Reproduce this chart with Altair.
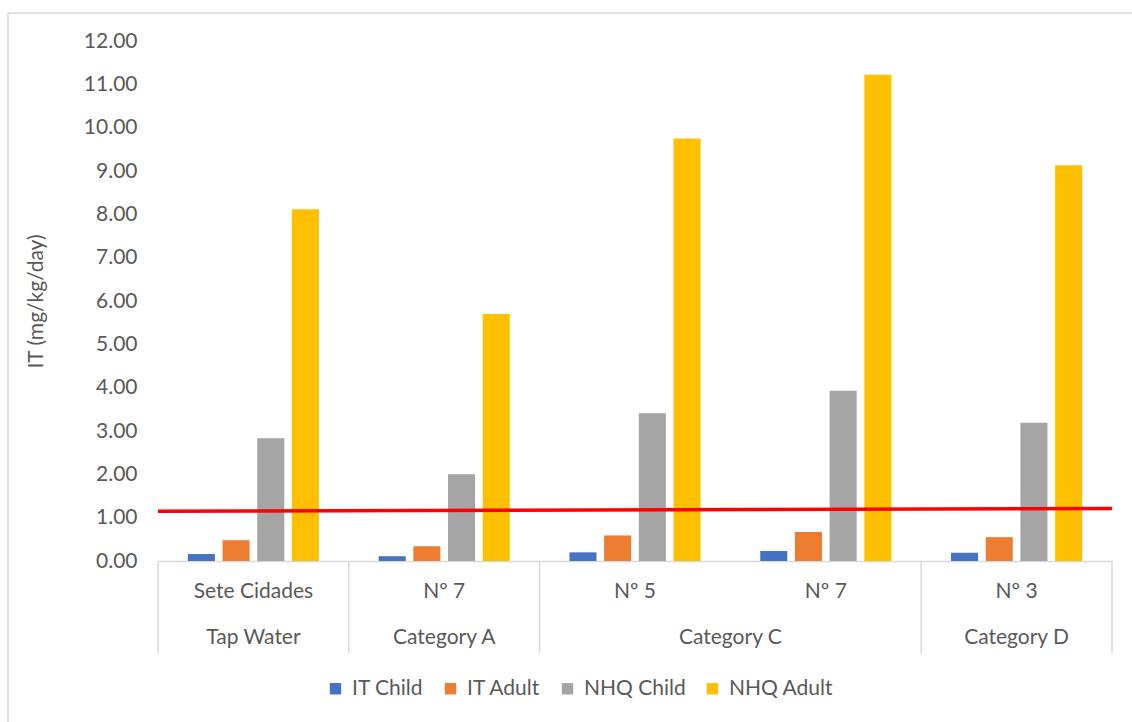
import altair as alt
import pandas as pd

keys = ["g1", "g2", "g3", "g4", "g5"]
sub_labels = ["Sete Cidades", "Nº 7", "Nº 5", "Nº 7", "Nº 3"]
series = ["IT Child", "IT Adult", "NHQ Child", "NHQ Adult"]
it_child = [0.16, 0.11, 0.20, 0.23, 0.19]
it_adult = [0.48, 0.34, 0.59, 0.67, 0.55]
nhq_child = [2.83, 2.00, 3.41, 3.93, 3.19]
nhq_adult = [8.12, 5.70, 9.75, 11.22, 9.13]
colors = ["#4472C4", "#ED7D31", "#A5A5A5", "#FFC000"]

cat_single_keys = ["g1", "g2", "g5"]
cat_single_labels = ["Tap Water", "Category A", "Category D"]
cat_span_key = ["g3"]
cat_span_label = ["Category C"]

ref_start = [1.15]
ref_end = [1.21]

W, H = 954, 520
FONT = "Lato"
FS = 21
TXT = "#595959"
GRID = "#D9D9D9"

rows = []
for i, k in enumerate(keys):
    for s, vals in zip(series, [it_child, it_adult, nhq_child, nhq_adult]):
        rows.append({"key": k, "series": s, "value": vals[i]})
df = pd.DataFrame(rows)

xscale = alt.Scale(domain=keys, paddingInner=0, paddingOuter=0)
x_axis = alt.Axis(labels=False, ticks=False, title=None, domainColor=GRID, domainWidth=1.5)

bars = alt.Chart(df).mark_bar().encode(
    x=alt.X("key:N", scale=xscale, axis=x_axis, sort=keys),
    xOffset=alt.XOffset("series:N", sort=series,
                        scale=alt.Scale(domain=series, paddingInner=0.22, paddingOuter=0.86)),
    y=alt.Y("value:Q", scale=alt.Scale(domain=[0, 12], nice=False),
            axis=alt.Axis(values=list(range(13)), format=".2f", title="IT (mg/kg/day)",
                          grid=False, ticks=False, domain=False, labelPadding=21,
                          labelFont=FONT, labelFontSize=FS, labelColor=TXT,
                          titleFont=FONT, titleFontSize=FS, titleColor=TXT,
                          titleFontWeight="normal", titlePadding=37)),
    color=alt.Color("series:N", sort=series,
                    scale=alt.Scale(domain=series, range=colors),
                    legend=alt.Legend(title=None, orient="none", direction="horizontal",
                                      legendX=167, legendY=637, symbolType="square",
                                      symbolSize=130, symbolStrokeWidth=0, labelFont=FONT,
                                      labelFontSize=FS, labelColor=TXT, labelOffset=6,
                                      columnPadding=16)),
)

sub_df = pd.DataFrame({"key": keys, "label": sub_labels})
sub_text = alt.Chart(sub_df).mark_text(font=FONT, fontSize=FS, color=TXT, baseline="middle").encode(
    x=alt.X("key:N", scale=xscale, sort=keys), y=alt.value(551), text="label:N")

cat_df = pd.DataFrame({"key": cat_single_keys, "label": cat_single_labels})
cat_text = alt.Chart(cat_df).mark_text(font=FONT, fontSize=FS, color=TXT, baseline="middle").encode(
    x=alt.X("key:N", scale=xscale, sort=keys), y=alt.value(597), text="label:N")

span_df = pd.DataFrame({"key": cat_span_key, "label": cat_span_label})
span_text = alt.Chart(span_df).mark_text(font=FONT, fontSize=FS, color=TXT, baseline="middle",
                                         dx=W / len(keys) / 2).encode(
    x=alt.X("key:N", scale=xscale, sort=keys), y=alt.value(597), text="label:N")

sep_left = pd.DataFrame({"key": ["g1", "g2", "g3", "g5"]})
sep1 = alt.Chart(sep_left).mark_rule(color=GRID, strokeWidth=1.5).encode(
    x=alt.X("key:N", scale=xscale, sort=keys, bandPosition=0),
    y=alt.value(H), y2=alt.value(612))
sep_right = pd.DataFrame({"key": ["g5"]})
sep2 = alt.Chart(sep_right).mark_rule(color=GRID, strokeWidth=1.5).encode(
    x=alt.X("key:N", scale=xscale, sort=keys, bandPosition=1),
    y=alt.value(H), y2=alt.value(612))

ref_df = pd.DataFrame({"start": ref_start, "end": ref_end})
ref = alt.Chart(ref_df).mark_rule(color="#FF0000", strokeWidth=3.5).encode(
    x=alt.value(0), x2=alt.value(W), y="start:Q", y2="end:Q")

border_df = pd.DataFrame({"a": [0]})
border_left = alt.Chart(border_df).mark_rule(color=GRID, strokeWidth=1.5).encode(
    x=alt.value(-150), y=alt.value(-28), y2=alt.value(681))
border_top = alt.Chart(border_df).mark_rule(color=GRID, strokeWidth=1.5).encode(
    x=alt.value(-150), x2=alt.value(980), y=alt.value(-28))

chart = alt.layer(bars, sep1, sep2, sub_text, cat_text, span_text, ref, border_left, border_top).properties(
    width=W, height=H,
    background="white",
    autosize=alt.AutoSizeParams(type="none"),
    padding={"left": 158, "top": 41, "right": 20, "bottom": 161},
).configure_view(stroke=None, strokeWidth=0)

chart.save("out.html", embed_options={"renderer": "svg", "actions": False})
